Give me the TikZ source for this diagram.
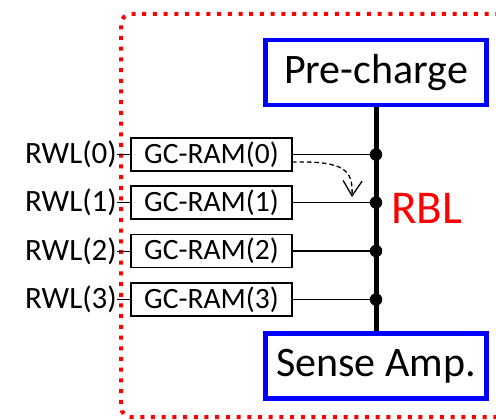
\documentclass[tikz,border=0pt]{standalone}
\usepackage{fontspec}
\setmainfont{Carlito}
\usetikzlibrary{arrows.meta}
\definecolor{pblue}{RGB}{0,0,255}
\definecolor{pred}{RGB}{255,0,0}
\tikzset{
  bigbox/.style={draw=pblue, line width=4.5pt, fill=white, minimum width=221pt, minimum height=65pt, inner sep=0pt, font=\fontsize{42}{50}\selectfont},
  cellbox/.style={draw=black, line width=1.8pt, minimum width=161pt, minimum height=33pt, inner sep=0pt, font=\fontsize{29.5}{35}\selectfont},
  rwl/.style={anchor=east, inner sep=0pt, font=\fontsize{31}{37}\selectfont},
  joint/.style={circle, fill=black, inner sep=0pt, minimum size=12.5pt},
  wire/.style={line width=1.5pt},
  bitline/.style={line width=5pt},
  frame/.style={draw=pred, line width=4pt, dash pattern=on 4pt off 6.7pt, rounded corners=10pt}
}
\begin{document}
\begin{tikzpicture}[x=1pt,y=-1pt]
\useasboundingbox (0,0) rectangle (496,420);
\clip (0,0) rectangle (496,420);
\draw[frame] (510,14) -- (121,14) -- (121,417) -- (510,417);
\node[bigbox] (pre) at (376,72.5) {Pre-charge};
\node[bigbox] (sa) at (376,366) {Sense Amp.};
\draw[bitline] (pre.south) -- (sa.north);
\foreach \i/\y in {0/154.5,1/202.5,2/251,3/299.5}{
  \node[cellbox] (gc\i) at (211.5,\y) {GC-RAM(\i)};
  \node[rwl] (rwl\i) at (117,\y) {RWL(\i)};
  \node[joint] (d\i) at (376,\y) {};
  \draw[wire] (gc\i.east) -- (d\i.center);
  \draw[line width=1pt] (rwl\i.east) -- (gc\i.west);
}
\node[text=pred, anchor=west, inner sep=0pt, font=\fontsize{47}{56}\selectfont] (rbl) at (391,208) {RBL};
\coordinate (a0) at (292,162);
\coordinate (t0) at (352,197);
\draw[line width=1.3pt, dash pattern=on 4.5pt off 3pt, -{Straight Barb[length=15pt,width=19pt,line width=1.3pt]}] (a0) .. controls (345,161) and (353,170) .. (t0);
\end{tikzpicture}
\end{document}
